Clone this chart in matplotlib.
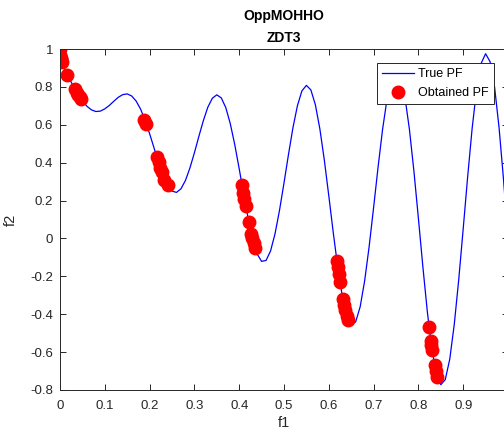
import numpy as np
import matplotlib
matplotlib.use("Agg")
import matplotlib.pyplot as plt

# true Pareto front curve at 0.01 steps of f1
true_f1 = [0.00, 0.01, 0.02, 0.03, 0.04, 0.05, 0.06, 0.07, 0.08, 0.09,
           0.10, 0.11, 0.12, 0.13, 0.14, 0.15, 0.16, 0.17, 0.18, 0.19,
           0.20, 0.21, 0.22, 0.23, 0.24, 0.25, 0.26, 0.27, 0.28, 0.29,
           0.30, 0.31, 0.32, 0.33, 0.34, 0.35, 0.36, 0.37, 0.38, 0.39,
           0.40, 0.41, 0.42, 0.43, 0.44, 0.45, 0.46, 0.47, 0.48, 0.49,
           0.50, 0.51, 0.52, 0.53, 0.54, 0.55, 0.56, 0.57, 0.58, 0.59,
           0.60, 0.61, 0.62, 0.63, 0.64, 0.65, 0.66, 0.67, 0.68, 0.69,
           0.70, 0.71, 0.72, 0.73, 0.74, 0.75, 0.76, 0.77, 0.78, 0.79,
           0.80, 0.81, 0.82, 0.83, 0.84, 0.85, 0.86, 0.87, 0.88, 0.89,
           0.90, 0.91, 0.92, 0.93, 0.94, 0.95, 0.96, 0.97, 0.98, 0.99,
           1.00]
true_f2 = [1.000, 0.897, 0.847, 0.803, 0.762, 0.726, 0.698, 0.679, 0.670, 0.672,
           0.684, 0.702, 0.724, 0.745, 0.759, 0.763, 0.752, 0.725, 0.682, 0.623,
           0.553, 0.477, 0.402, 0.334, 0.282, 0.250, 0.243, 0.262, 0.306, 0.372,
           0.452, 0.539, 0.622, 0.693, 0.740, 0.758, 0.742, 0.691, 0.607, 0.496,
           0.368, 0.233, 0.105, -0.004, -0.082, -0.121, -0.116, -0.066, 0.025, 0.149,
           0.293, 0.443, 0.585, 0.701, 0.779, 0.808, 0.784, 0.706, 0.579, 0.414,
           0.225, 0.030, -0.152, -0.303, -0.409, -0.456, -0.440, -0.361, -0.224, -0.044,
           0.163, 0.377, 0.575, 0.736, 0.844, 0.884, 0.851, 0.745, 0.575, 0.355,
           0.106, -0.150, -0.388, -0.583, -0.715, -0.772, -0.745, -0.637, -0.455, -0.218,
           0.051, 0.327, 0.582, 0.788, 0.924, 0.975, 0.933, 0.800, 0.586, 0.311,
           0.000]

# obtained solutions (red dots)
obt_f1 = [0.000, 0.001, 0.002, 0.003, 0.0045, 0.015,
          0.034, 0.038, 0.041, 0.044, 0.047,
          0.1875, 0.191,
          0.2165, 0.220, 0.224, 0.227, 0.233, 0.240,
          0.4065, 0.4095, 0.4118, 0.4149, 0.4216, 0.4273, 0.4296, 0.4328, 0.4359,
          0.618, 0.620, 0.6226, 0.6253, 0.6315, 0.6343, 0.637, 0.640, 0.6435,
          0.8243, 0.8278, 0.8290, 0.8303, 0.8366, 0.8389, 0.8411]
obt_f2 = [1.000, 0.968, 0.955, 0.945, 0.933, 0.863,
          0.788, 0.770, 0.758, 0.747, 0.736,
          0.625, 0.604,
          0.428, 0.402, 0.374, 0.353, 0.309, 0.282,
          0.280, 0.240, 0.210, 0.170, 0.088, 0.025, 0.000, -0.025, -0.050,
          -0.120, -0.150, -0.190, -0.230, -0.320, -0.350, -0.380, -0.410, -0.430,
          -0.470, -0.540, -0.560, -0.590, -0.670, -0.700, -0.730]

xticks = [0, 0.1, 0.2, 0.3, 0.4, 0.5, 0.6, 0.7, 0.8, 0.9, 1.0]
# label at 1 falls outside the cropped picture
xticklabels = ["0", "0.1", "0.2", "0.3", "0.4", "0.5", "0.6", "0.7", "0.8", "0.9", ""]
yticks = [-0.8, -0.6, -0.4, -0.2, 0, 0.2, 0.4, 0.6, 0.8, 1.0]
yticklabels = ["-0.8", "-0.6", "-0.4", "-0.2", "0", "0.2", "0.4", "0.6", "0.8", "1"]

plt.rcParams['font.family'] = ['Liberation Sans', 'DejaVu Sans']
dark = '#262626'

fig = plt.figure(figsize=(5.04, 4.33), dpi=100)
ax = fig.add_axes([60/504, 43/433, 448/504, 341/433])

ax.plot(true_f1, true_f2, color='#0000ff', lw=0.9, label='True PF')
ax.plot(obt_f1, obt_f2, 'o', color='#ff0000', ms=9, mec='#ff0000', ls='none',
        label='Obtained PF')

ax.set_xlim(0, 1)
ax.set_ylim(-0.8, 1)
ax.set_xticks(xticks)
ax.set_xticklabels(xticklabels)
ax.set_yticks(yticks)
ax.set_yticklabels(yticklabels)
ax.tick_params(direction='in', top=True, right=True, length=4, width=0.7,
               labelsize=9.5, colors=dark, labelcolor=dark)
ax.tick_params(axis='x', pad=7)
ax.tick_params(axis='y', pad=5)
for s in ax.spines.values():
    s.set_color(dark)
    s.set_linewidth(0.7)

ax.set_xlabel('f1', fontsize=10.5, color=dark, labelpad=3)
ax.set_ylabel('f2', fontsize=10.5, color=dark, labelpad=9)
ax.set_title('OppMOHHO\nZDT3', fontsize=10, fontweight='bold', color='black',
             linespacing=1.7, pad=5)

leg = ax.legend(loc='upper right', bbox_to_anchor=(494/504, 1 - 63/433),
                bbox_transform=fig.transFigure, borderaxespad=0,
                fancybox=False, framealpha=1, edgecolor=dark, fontsize=9,
                handlelength=2.6, handletextpad=0.35, borderpad=0.4,
                labelspacing=0.55, markerscale=1.0)
leg.get_frame().set_linewidth(0.7)

fig.savefig('out.png', dpi=100)
